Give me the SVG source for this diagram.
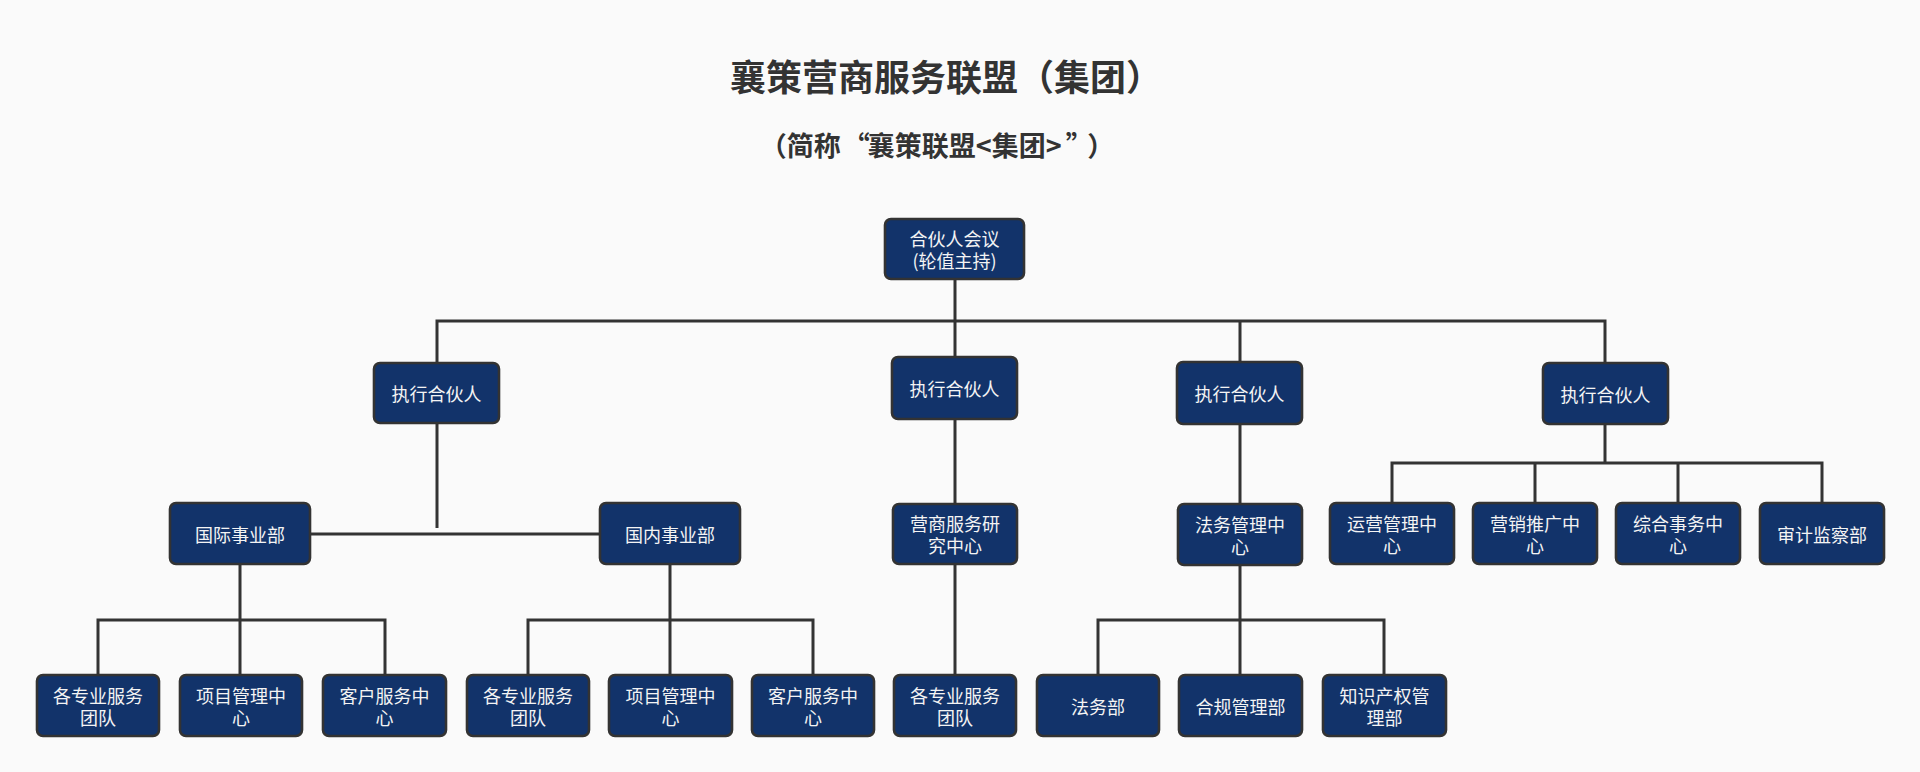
<svg xmlns="http://www.w3.org/2000/svg" width="1920" height="772" viewBox="0 0 1920 772">
<style>
.bg{fill:#fafafa}
.box{fill:#12336a;stroke:#333333;stroke-width:2.6}
.t{font-family:"Noto Sans CJK SC","Noto Sans",sans-serif;font-size:18px;fill:#f4f4f4;text-anchor:middle;dominant-baseline:central}
.title{font-family:"Noto Sans CJK SC","Noto Sans",sans-serif;font-weight:bold;fill:#333333;text-anchor:middle}
.c{fill:none;stroke:#333333;stroke-width:3}
</style>
<rect class="bg" x="0" y="0" width="1920" height="772"/>
<text class="title" x="946" y="91" font-size="36">襄策营商服务联盟（集团）</text>
<text class="title" x="937" y="156" font-size="27">（简称<tspan dx="2">“</tspan><tspan dx="-2">襄策联盟&lt;集团&gt;</tspan><tspan dx="4">”</tspan><tspan dx="8">）</tspan></text>
<g id="connectors">
<path class="c" d="M955 279V357"/>
<path class="c" d="M437 363V321H1605V363"/>
<path class="c" d="M1240 321V362"/>
<path class="c" d="M437 423V528"/>
<path class="c" d="M310 534H600"/>
<path class="c" d="M955 419V504"/>
<path class="c" d="M1240 424V504"/>
<path class="c" d="M1605 424V463"/>
<path class="c" d="M1392 503V463H1822V503"/>
<path class="c" d="M1535 463V503"/>
<path class="c" d="M1678 463V503"/>
<path class="c" d="M240 564V675"/>
<path class="c" d="M98 675V620H385V675"/>
<path class="c" d="M670 564V675"/>
<path class="c" d="M528 675V620H813V675"/>
<path class="c" d="M955 564V675"/>
<path class="c" d="M1240 565V675"/>
<path class="c" d="M1098 675V620H1384V675"/>
</g>
<g id="n-top"><rect class="box" x="885" y="219" width="139" height="60" rx="6"/><text class="t"><tspan x="954.5" y="238">合伙人会议</tspan><tspan x="954.5" y="260">(轮值主持)</tspan></text></g>
<g id="n-exec1"><rect class="box" x="374" y="363" width="125" height="60" rx="6"/><text class="t" x="436.5" y="393">执行合伙人</text></g>
<g id="n-exec2"><rect class="box" x="892" y="357" width="125" height="62" rx="6"/><text class="t" x="954.5" y="388">执行合伙人</text></g>
<g id="n-exec3"><rect class="box" x="1177" y="362" width="125" height="62" rx="6"/><text class="t" x="1239.5" y="393">执行合伙人</text></g>
<g id="n-exec4"><rect class="box" x="1543" y="363" width="125" height="61" rx="6"/><text class="t" x="1605.5" y="393.5">执行合伙人</text></g>
<g id="n-intl"><rect class="box" x="170" y="503" width="140" height="61" rx="6"/><text class="t" x="240" y="533.5">国际事业部</text></g>
<g id="n-dom"><rect class="box" x="600" y="503" width="140" height="61" rx="6"/><text class="t" x="670" y="533.5">国内事业部</text></g>
<g id="n-research"><rect class="box" x="893" y="504" width="124" height="60" rx="6"/><text class="t"><tspan x="955" y="523">营商服务研</tspan><tspan x="955" y="545">究中心</tspan></text></g>
<g id="n-legalc"><rect class="box" x="1178" y="504" width="124" height="61" rx="6"/><text class="t"><tspan x="1240" y="523.5">法务管理中</tspan><tspan x="1240" y="545.5">心</tspan></text></g>
<g id="n-ops"><rect class="box" x="1330" y="503" width="124" height="61" rx="6"/><text class="t"><tspan x="1392" y="522.5">运营管理中</tspan><tspan x="1392" y="544.5">心</tspan></text></g>
<g id="n-mkt"><rect class="box" x="1473" y="503" width="124" height="61" rx="6"/><text class="t"><tspan x="1535" y="522.5">营销推广中</tspan><tspan x="1535" y="544.5">心</tspan></text></g>
<g id="n-admin"><rect class="box" x="1616" y="503" width="124" height="61" rx="6"/><text class="t"><tspan x="1678" y="522.5">综合事务中</tspan><tspan x="1678" y="544.5">心</tspan></text></g>
<g id="n-audit"><rect class="box" x="1760" y="503" width="124" height="61" rx="6"/><text class="t" x="1822" y="533.5">审计监察部</text></g>
<g id="n-b1"><rect class="box" x="37" y="675" width="122" height="61" rx="6"/><text class="t"><tspan x="98" y="694.5">各专业服务</tspan><tspan x="98" y="716.5">团队</tspan></text></g>
<g id="n-b2"><rect class="box" x="180" y="675" width="122" height="61" rx="6"/><text class="t"><tspan x="241" y="694.5">项目管理中</tspan><tspan x="241" y="716.5">心</tspan></text></g>
<g id="n-b3"><rect class="box" x="323" y="675" width="123" height="61" rx="6"/><text class="t"><tspan x="384.5" y="694.5">客户服务中</tspan><tspan x="384.5" y="716.5">心</tspan></text></g>
<g id="n-b4"><rect class="box" x="467" y="675" width="122" height="61" rx="6"/><text class="t"><tspan x="528" y="694.5">各专业服务</tspan><tspan x="528" y="716.5">团队</tspan></text></g>
<g id="n-b5"><rect class="box" x="609" y="675" width="123" height="61" rx="6"/><text class="t"><tspan x="670.5" y="694.5">项目管理中</tspan><tspan x="670.5" y="716.5">心</tspan></text></g>
<g id="n-b6"><rect class="box" x="752" y="675" width="122" height="61" rx="6"/><text class="t"><tspan x="813" y="694.5">客户服务中</tspan><tspan x="813" y="716.5">心</tspan></text></g>
<g id="n-b7"><rect class="box" x="894" y="675" width="122" height="61" rx="6"/><text class="t"><tspan x="955" y="694.5">各专业服务</tspan><tspan x="955" y="716.5">团队</tspan></text></g>
<g id="n-b8"><rect class="box" x="1037" y="675" width="122" height="61" rx="6"/><text class="t" x="1098" y="705.5">法务部</text></g>
<g id="n-b9"><rect class="box" x="1179" y="675" width="123" height="61" rx="6"/><text class="t" x="1240.5" y="705.5">合规管理部</text></g>
<g id="n-b10"><rect class="box" x="1323" y="675" width="123" height="61" rx="6"/><text class="t"><tspan x="1384.5" y="694.5">知识产权管</tspan><tspan x="1384.5" y="716.5">理部</tspan></text></g>
</svg>
